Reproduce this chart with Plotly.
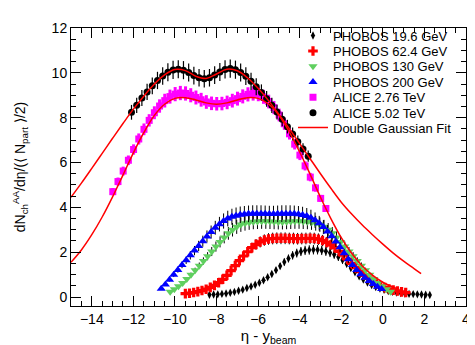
import plotly.graph_objects as go

# beam rapidities used for the shift eta -> eta - y_beam
ybeam_19 = 3.04
ybeam_62 = 4.20
ybeam_130 = 4.93
ybeam_200 = 5.36
ybeam_276 = 7.99
ybeam_502 = 8.59

# PHOBOS eta bins (-5.3 ... 5.3, step 0.2)
eta_phobos = [-5.3, -5.1, -4.9, -4.7, -4.5, -4.3, -4.1, -3.9, -3.7, -3.5,
              -3.3, -3.1, -2.9, -2.7, -2.5, -2.3, -2.1, -1.9, -1.7, -1.5,
              -1.3, -1.1, -0.9, -0.7, -0.5, -0.3, -0.1,
              0.1, 0.3, 0.5, 0.7, 0.9, 1.1, 1.3, 1.5, 1.7, 1.9,
              2.1, 2.3, 2.5, 2.7, 2.9, 3.1, 3.3, 3.5, 3.7, 3.9,
              4.1, 4.3, 4.5, 4.7, 4.9, 5.1, 5.3]

phobos_19 = [0.10, 0.11, 0.12, 0.14, 0.16, 0.19, 0.23, 0.28, 0.33, 0.40,
             0.47, 0.55, 0.64, 0.75, 0.88, 1.03, 1.20, 1.38, 1.56, 1.72,
             1.86, 1.96, 2.03, 2.08, 2.10, 2.11, 2.11,
             2.08, 2.04, 1.98, 1.90, 1.79, 1.65, 1.48, 1.29, 1.10, 0.93,
             0.78, 0.65, 0.54, 0.45, 0.38, 0.32, 0.27, 0.23, 0.20, 0.18,
             0.16, 0.14, 0.13, 0.12, 0.11, 0.10, 0.09]

phobos_62 = [0.15, 0.17, 0.20, 0.24, 0.29, 0.35, 0.43, 0.52, 0.64, 0.79,
             0.97, 1.18, 1.40, 1.62, 1.83, 2.02, 2.20, 2.35, 2.46, 2.54,
             2.59, 2.61, 2.62, 2.62, 2.62, 2.61, 2.61,
             2.60, 2.61, 2.61, 2.62, 2.61, 2.58, 2.52, 2.44, 2.33, 2.20,
             2.04, 1.87, 1.69, 1.50, 1.31, 1.13, 0.97, 0.83, 0.70, 0.59,
             0.50, 0.42, 0.36, 0.31, 0.27, 0.23, 0.20]

phobos_130 = [0.24, 0.35, 0.48, 0.63, 0.80, 0.99, 1.19, 1.40, 1.61, 1.82,
              2.03, 2.25, 2.46, 2.66, 2.84, 3.00, 3.13, 3.23, 3.29, 3.33,
              3.36, 3.37, 3.38, 3.38, 3.37, 3.36, 3.35,
              3.35, 3.36, 3.37, 3.38, 3.38, 3.37, 3.36, 3.33, 3.29, 3.23,
              3.13, 3.00, 2.84, 2.66, 2.46, 2.25, 2.03, 1.82, 1.61, 1.40,
              1.19, 0.99, 0.80, 0.63, 0.48, 0.35, 0.24]

phobos_200 = [0.37, 0.56, 0.77, 0.99, 1.21, 1.43, 1.64, 1.86, 2.07, 2.28,
              2.49, 2.70, 2.90, 3.09, 3.25, 3.39, 3.50, 3.58, 3.63, 3.67,
              3.69, 3.71, 3.72, 3.72, 3.72, 3.71, 3.70,
              3.70, 3.71, 3.72, 3.72, 3.72, 3.71, 3.69, 3.66, 3.61, 3.54,
              3.43, 3.29, 3.12, 2.92, 2.71, 2.48, 2.22, 1.95, 1.68, 1.43,
              1.21, 1.02, 0.86, 0.72, 0.58, 0.46, 0.36]

# ALICE 2.76 TeV, eta -5.0 ... 5.25 step 0.25
eta_276 = [-5.0, -4.75, -4.5, -4.25, -4.0, -3.75, -3.5, -3.25, -3.0, -2.75,
           -2.5, -2.25, -2.0, -1.75, -1.5, -1.25, -1.0, -0.75, -0.5, -0.25,
           0.0, 0.25, 0.5, 0.75, 1.0, 1.25, 1.5, 1.75, 2.0, 2.25,
           2.5, 2.75, 3.0, 3.25, 3.5, 3.75, 4.0, 4.25, 4.5, 4.75,
           5.0, 5.25]
alice_276 = [4.70, 5.15, 5.62, 6.10, 6.58, 7.05, 7.48, 7.88, 8.22, 8.52,
             8.76, 8.94, 9.05, 9.10, 9.08, 9.00, 8.90, 8.80, 8.70, 8.64,
             8.62, 8.63, 8.68, 8.76, 8.85, 8.95, 9.04, 9.08, 9.05, 8.93,
             8.72, 8.45, 8.12, 7.73, 7.28, 6.82, 6.33, 5.85, 5.35, 4.87,
             4.40, 3.95]

# ALICE 5.02 TeV, eta -3.5 ... 5.0 step 0.25
eta_502 = [-3.5, -3.25, -3.0, -2.75, -2.5, -2.25, -2.0, -1.75, -1.5, -1.25,
           -1.0, -0.75, -0.5, -0.25, 0.0, 0.25, 0.5, 0.75, 1.0, 1.25,
           1.5, 1.75, 2.0, 2.25, 2.5, 2.75, 3.0, 3.25, 3.5, 3.75,
           4.0, 4.25, 4.5, 4.75, 5.0]
alice_502 = [8.24, 8.55, 8.88, 9.15, 9.42, 9.66, 9.86, 10.03, 10.13, 10.16,
             10.12, 10.02, 9.88, 9.78, 9.74, 9.78, 9.90, 10.04, 10.15, 10.19,
             10.14, 10.02, 9.85, 9.62, 9.38, 9.12, 8.84, 8.55, 8.25, 7.93,
             7.60, 7.27, 6.93, 6.60, 6.28]

# double gaussian fit curves (x = eta - y_beam)
fit502_x = [-15, -14.5, -14, -13.5, -13, -12.5, -12, -11.5, -11, -10.5,
            -10, -9.5, -9, -8.5, -8, -7.5, -7, -6.5, -6, -5.5,
            -5, -4.5, -4, -3.5, -3, -2.5, -2, -1.5, -1, -0.5,
            0, 0.5, 1, 1.5, 1.84]
fit502_y = [4.45, 5.08, 5.74, 6.41, 7.08, 7.74, 8.38, 8.96, 9.49, 9.91,
            10.15, 10.10, 9.85, 9.75, 9.95, 10.16, 10.09, 9.77, 9.31, 8.76,
            8.15, 7.51, 6.84, 6.17, 5.50, 4.85, 4.23, 3.70, 3.22, 2.78,
            2.36, 1.96, 1.60, 1.27, 1.04]

fit276_x = [-15, -14.5, -14, -13.5, -13, -12.5, -12, -11.5, -11, -10.5,
            -10, -9.5, -9, -8.5, -8, -7.5, -7, -6.5, -6, -5.5,
            -5, -4.5, -4, -3.5, -3, -2.5, -2, -1.5, -1, -0.5,
            0, 0.5, 0.8]
fit276_y = [1.55, 2.10, 2.78, 3.57, 4.47, 5.44, 6.43, 7.33, 8.09, 8.60,
            8.86, 8.89, 8.79, 8.66, 8.60, 8.66, 8.79, 8.89, 8.86, 8.61,
            8.11, 7.37, 6.47, 5.48, 4.45, 3.50, 2.65, 1.95, 1.40, 0.98,
            0.66, 0.44, 0.33]

FONT = "Liberation Sans, Arial, Helvetica, sans-serif"


def shift(eta, yb):
    return [round(e - yb, 3) for e in eta]


fig = go.Figure()

phobos = [
    ("PHOBOS 19.6 GeV", phobos_19, ybeam_19, "diamond-tall", "black", 6),
    ("PHOBOS 62.4 GeV", phobos_62, ybeam_62, "cross", "#ff0000", 8),
    ("PHOBOS 130 GeV", phobos_130, ybeam_130, "triangle-down", "#5fcf5f", 8),
    ("PHOBOS 200 GeV", phobos_200, ybeam_200, "triangle-up", "#0000ff", 8),
]
for i, (name, vals, yb, sym, col, sz) in enumerate(phobos):
    fig.add_trace(go.Scatter(
        x=shift(eta_phobos, yb), y=vals, mode="markers", name=name,
        legend="legend" if i == 0 else f"legend{i + 1}",
        marker=dict(symbol=sym, color=col, size=sz, line=dict(width=0)),
        error_y=dict(type="percent", value=10, color="black",
                     thickness=1, width=0)))

fig.add_trace(go.Scatter(
    x=shift(eta_276, ybeam_276), y=alice_276, mode="markers",
    name="ALICE 2.76 TeV", legend="legend5",
    marker=dict(symbol="square", color="#ff00ff", size=7),
    error_y=dict(type="percent", value=3.5, color="#ff00ff",
                 thickness=3, width=0)))

fig.add_trace(go.Scatter(
    x=shift(eta_502, ybeam_502), y=alice_502, mode="markers",
    name="ALICE 5.02 TeV", legend="legend6",
    marker=dict(symbol="circle", color="black", size=7),
    error_y=dict(type="percent", value=4, color="black",
                 thickness=1.2, width=0)))

fig.add_trace(go.Scatter(
    x=fit276_x, y=fit276_y, mode="lines", name="Double Gaussian Fit",
    legend="legend7",
    line=dict(color="#ff0000", width=1.5, shape="spline")))
fig.add_trace(go.Scatter(
    x=fit502_x, y=fit502_y, mode="lines", showlegend=False,
    line=dict(color="#ff0000", width=1.5, shape="spline")))

axis_common = dict(
    showline=True, linecolor="black", linewidth=1, mirror="ticks",
    ticks="inside", ticklen=10, tickcolor="black", tickwidth=1,
    showgrid=False, zeroline=False, dtick=2,
    tickfont=dict(family=FONT, size=14, color="black"),
    minor=dict(dtick=0.5, ticks="inside", ticklen=5, tickcolor="black",
               showgrid=False),
)

# one single-entry legend per row, so the rows can sit closer than
# plotly's default legend spacing
legend_rows = [0.973, 0.917, 0.862, 0.806, 0.751, 0.695, 0.642]
legends = {}
for i, ly in enumerate(legend_rows):
    key = "legend" if i == 0 else f"legend{i + 1}"
    legends[key] = dict(x=0.562, y=ly, xanchor="left", yanchor="middle",
                        bgcolor="rgba(0,0,0,0)", borderwidth=0,
                        font=dict(family=FONT, size=13, color="black"),
                        itemwidth=30)

fig.update_layout(
    width=475, height=345,
    margin=dict(l=61, r=17, t=18, b=42),
    paper_bgcolor="white", plot_bgcolor="white",
    font=dict(family=FONT, size=14, color="black"),
    xaxis=dict(axis_common, range=[-15, 4], tick0=0,
               title=dict(text="η - y<sub>beam</sub>",
                          font=dict(family=FONT, size=15), standoff=4)),
    yaxis=dict(axis_common, range=[-0.4, 12], tick0=0,
               title=dict(text="dN<sub>ch</sub><sup>AA</sup>/dη/(⟨ N<sub>part</sub> ⟩/2)",
                          font=dict(family=FONT, size=14), standoff=22)),
    **legends,
)

fig.write_html("out.html")
